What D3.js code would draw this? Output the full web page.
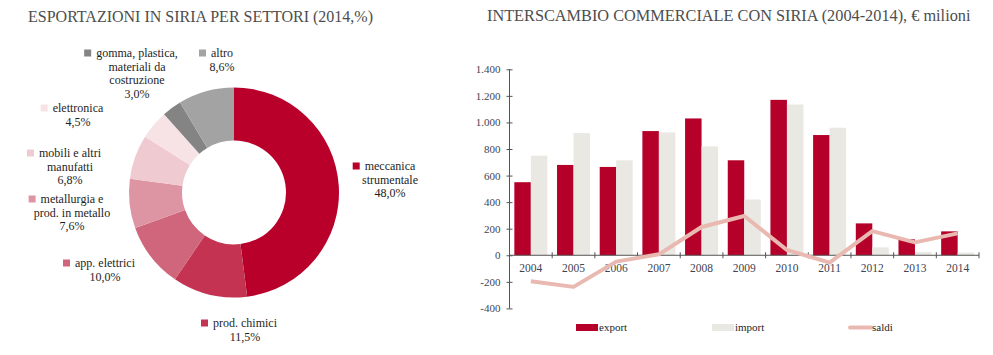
<!DOCTYPE html>
<html><head><meta charset="utf-8">
<script src="https://cdn.jsdelivr.net/npm/d3@7"></script>
<style>
body{margin:0;background:#fff;}
svg text{font-family:"Liberation Serif","Times New Roman",serif;}
</style></head>
<body><svg id="c" width="993" height="355"></svg>
<script>
// ---- Donut data ----
const sectors = ["meccanica strumentale","prod. chimici","app. elettrici","metallurgia e prod. in metallo","mobili e altri manufatti","elettronica","gomma, plastica, materiali da costruzione","altro"];
const sectorShares = [48.0, 11.5, 10.0, 7.6, 6.8, 4.5, 3.0, 8.6];
const sectorLabelLines = [["meccanica","strumentale","48,0%"],["prod. chimici","11,5%"],["app. elettrici","10,0%"],["metallurgia e","prod. in metallo","7,6%"],["mobili e altri","manufatti","6,8%"],["elettronica","4,5%"],["gomma, plastica,","materiali da","costruzione","3,0%"],["altro","8,6%"]];

// ---- Bar/line data ----
const years = ["2004","2005","2006","2007","2008","2009","2010","2011","2012","2013","2014"];
const exportVals = [550, 680, 665, 935, 1030, 715, 1170, 905, 240, 120, 180];
const importVals = [750, 920, 715, 925, 820, 420, 1135, 960, 60, 25, 20];
const saldiVals = [-195, -238, -48, 7, 213, 296, 40, -55, 182, 97, 165];
const yTicks = [-400,-200,0,200,400,600,800,1000,1200,1400];
const seriesNames = ["export","import","saldi"];

// ---- styles / layout ----
const FONT = "'Liberation Serif', 'Times New Roman', serif";
const sectorColors = ["#b9002b","#c43352","#d0667b","#de95a3","#efcad1","#f7e2e6","#848484","#a3a3a3"];
const labelPos = [[390,166],[245,323],[105,263],[72,199],[70,153],[78,108],[137,53],[222,53]];
const cExport="#b5002a", cImport="#e9e8e3", cSaldi="#e9b9b1";
const svg = d3.select("#c");

// Titles
svg.append("text").attr("x",28).attr("y",22).style("font-family",FONT).attr("font-size",16).attr("fill","#4d4d4d").text("ESPORTAZIONI IN SIRIA PER SETTORI (2014,%)");
svg.append("text").attr("x",487).attr("y",21).style("font-family",FONT).attr("font-size",16.3).attr("fill","#4d4d4d").text("INTERSCAMBIO COMMERCIALE CON SIRIA (2004-2014), € milioni");

// Donut
const pie = d3.pie().sort(null).value(d=>d)(sectorShares);
const arc = d3.arc().innerRadius(52).outerRadius(105);
const g = svg.append("g").attr("transform","translate(234,192.5)");
g.selectAll("path").data(pie).join("path").attr("d",arc).attr("fill",(d,i)=>sectorColors[i]);

// Donut labels
sectorLabelLines.forEach((lines,i)=>{
  const [cx,cy]=labelPos[i];
  const lg = svg.append("g");
  lines.forEach((ln,j)=>{
    const t = lg.append("text").attr("x",cx).attr("y",cy+4+j*13.5).attr("text-anchor","middle")
      .style("font-family",FONT).attr("font-size",12).attr("fill","#1e1e1e").text(ln);
    if(j===0){
      const w = t.node().getComputedTextLength();
      lg.append("rect").attr("x",cx-w/2-12).attr("y",cy-3.5).attr("width",7).attr("height",7).attr("fill",sectorColors[i]);
    }
  });
});

// Bar chart
const x = d3.scaleBand().domain(years).range([509.5,979]).paddingInner(0).paddingOuter(0);
const y = d3.scaleLinear().domain([-400,1400]).range([308.4,69.3]);
const bw = 16.5, off = (x.bandwidth()-2*bw)/2;
const bars = svg.append("g");
bars.selectAll(".ex").data(exportVals).join("rect").attr("x",(d,i)=>x(years[i])+off).attr("width",bw)
  .attr("y",d=>y(Math.max(0,d))).attr("height",d=>Math.abs(y(d)-y(0))).attr("fill",cExport);
bars.selectAll(".im").data(importVals).join("rect").attr("x",(d,i)=>x(years[i])+off+bw).attr("width",bw)
  .attr("y",d=>y(Math.max(0,d))).attr("height",d=>Math.abs(y(d)-y(0))).attr("fill",cImport);

// Y axis
const fmt = v => d3.formatLocale({decimal:",",thousands:".",grouping:[3],currency:["","€"],minus:"-"}).format(",d")(v);
const yAx = svg.append("g").attr("transform","translate(509.5,0)")
  .call(d3.axisLeft(y).tickValues(yTicks).tickFormat(fmt).tickSize(3).tickPadding(6));
yAx.selectAll("line").attr("x1",3).attr("x2",-3);
yAx.select(".domain").attr("stroke","#555").attr("d",`M0,${y(-400)}V${y(1400)}`);
yAx.selectAll("line").attr("stroke","#555");
yAx.selectAll("text").attr("font-size",11).attr("fill","#3f4452").style("font-family",FONT);

// X axis (at zero)
const xg = svg.append("g");
xg.append("line").attr("x1",x.range()[0]).attr("x2",x.range()[1]).attr("y1",y(0)).attr("y2",y(0)).attr("stroke","#555");
const bounds = years.map(d=>x(d)).concat([x.range()[1]]);
xg.selectAll(".tk").data(bounds.slice(1)).join("line").attr("x1",d=>d).attr("x2",d=>d)
  .attr("y1",y(0)-3).attr("y2",y(0)+3).attr("stroke","#555");
xg.selectAll(".yl").data(years).join("text").attr("x",d=>x(d)+x.bandwidth()/2).attr("y",y(0)+17)
  .attr("text-anchor","middle").style("font-family",FONT).attr("font-size",11.5).attr("fill","#3f4452").text(d=>d);

// Saldi line
const line = d3.line().x((d,i)=>x(years[i])+x.bandwidth()/2).y(d=>y(d));
svg.append("path").datum(saldiVals).attr("d",line).attr("fill","none").attr("stroke",cSaldi)
  .attr("stroke-width",4).attr("stroke-linejoin","round");

// Legend
const leg = svg.append("g");
leg.append("rect").attr("x",576).attr("y",324).attr("width",22).attr("height",7).attr("fill",cExport);
leg.append("text").attr("x",599).attr("y",331).style("font-family",FONT).attr("font-size",11).attr("fill","#1e1e1e").text(seriesNames[0]);
leg.append("rect").attr("x",712).attr("y",324).attr("width",22).attr("height",7).attr("fill",cImport);
leg.append("text").attr("x",735).attr("y",331).style("font-family",FONT).attr("font-size",11).attr("fill","#1e1e1e").text(seriesNames[1]);
leg.append("line").attr("x1",850).attr("x2",871).attr("y1",327.5).attr("y2",327.5).attr("stroke",cSaldi).attr("stroke-width",4).attr("stroke-linecap","round");
leg.append("text").attr("x",872).attr("y",331).style("font-family",FONT).attr("font-size",11).attr("fill","#1e1e1e").text(seriesNames[2]);
</script></body></html>
